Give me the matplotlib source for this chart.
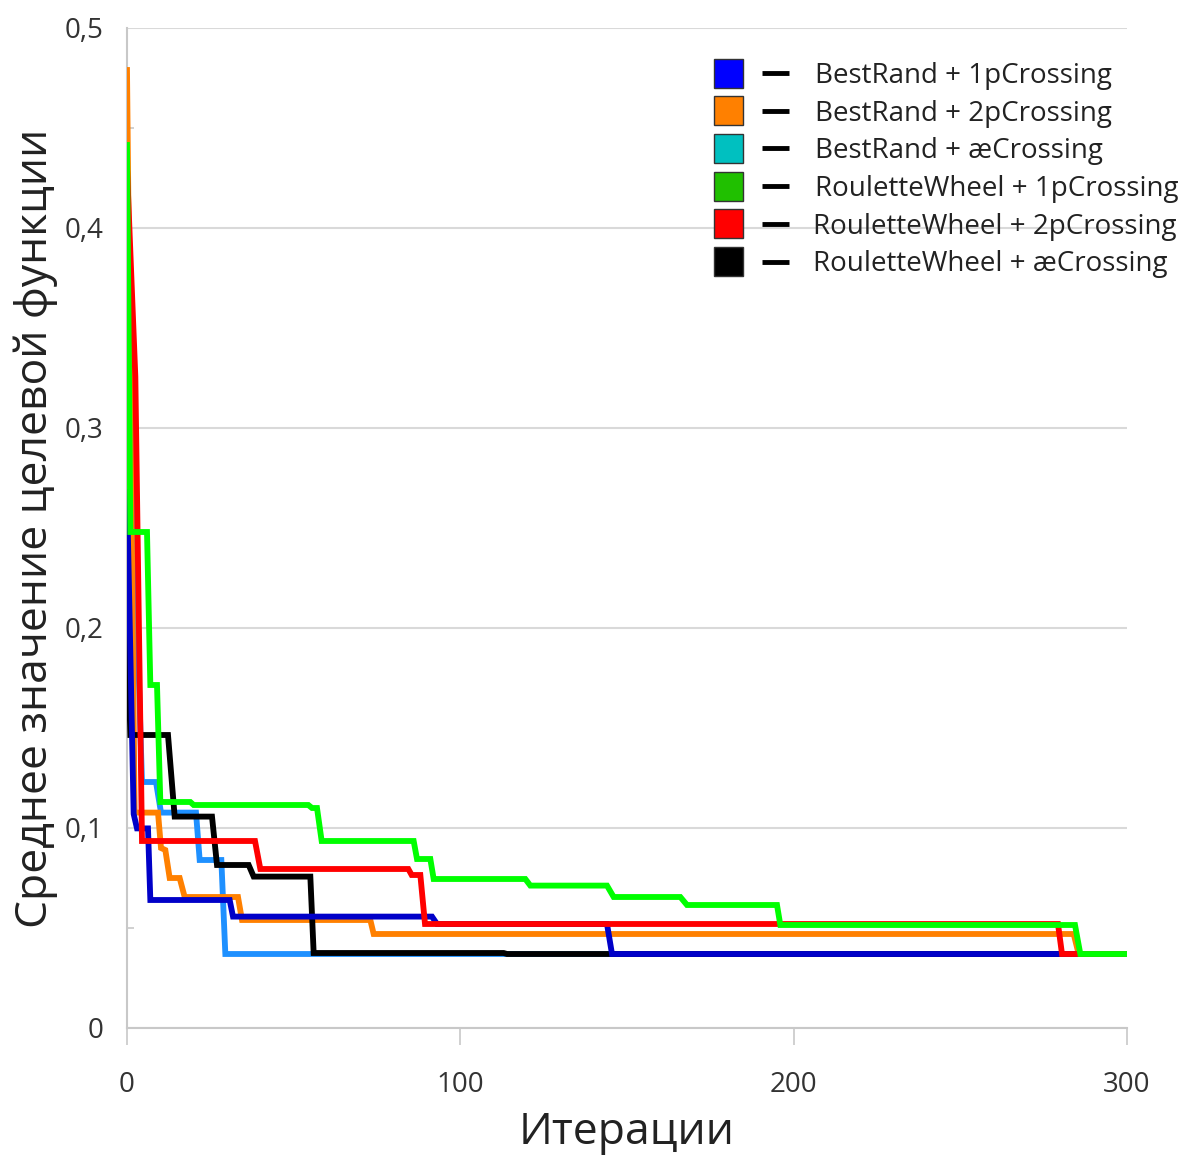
import matplotlib
matplotlib.use("Agg")
import matplotlib.pyplot as plt
from matplotlib.patches import Rectangle
from matplotlib.ticker import FuncFormatter, FixedLocator

plt.rcParams['font.family'] = ['Open Sans', 'DejaVu Sans']

# corner points of each curve (iteration, mean objective value)
br1_x = [0, 2, 3, 6.3, 7, 30.8, 31.8, 91.5, 93, 144, 145.5, 300]
br1_y = [0.268, 0.107, 0.0998, 0.0998, 0.064, 0.064, 0.0557, 0.0557, 0.052, 0.052, 0.037, 0.037]

br2_x = [0, 2.3, 9.3, 10.2, 11.5, 12.8, 15.8, 17.3, 33.3, 34.5, 73, 74, 284, 285.5, 300]
br2_y = [0.479, 0.1077, 0.1077, 0.090, 0.089, 0.075, 0.075, 0.0655, 0.0655, 0.054, 0.054, 0.047, 0.047, 0.037, 0.037]

brae_x = [0, 4.5, 8.7, 10.2, 20.7, 21.8, 28.3, 29.5, 300]
brae_y = [0.369, 0.123, 0.123, 0.1077, 0.1077, 0.084, 0.084, 0.037, 0.037]

rw1_x = [0, 1, 6, 7, 9, 10, 19, 20, 54.4, 55.5, 57, 58.4, 86, 87, 91, 92, 119.5, 121, 144, 146, 166, 168, 195, 196, 284.4, 286, 300]
rw1_y = [0.4415, 0.248, 0.248, 0.1715, 0.1715, 0.113, 0.113, 0.1115, 0.1115, 0.110, 0.110, 0.0935, 0.0935, 0.0845, 0.0845, 0.0745, 0.0745, 0.0712, 0.0712, 0.0655, 0.0655, 0.0615, 0.0615, 0.0515, 0.0515, 0.037, 0.037]

rw2_x = [0, 2.5, 4.5, 38.4, 40, 84.4, 85.4, 88, 89.4, 279.3, 280.5, 300]
rw2_y = [0.43, 0.3257, 0.0935, 0.0935, 0.0795, 0.0795, 0.0765, 0.0765, 0.052, 0.052, 0.037, 0.037]

rwae_x = [0, 1, 12.3, 14.3, 25.5, 27, 36.5, 38, 55, 56, 113, 114, 300]
rwae_y = [0.208, 0.1465, 0.1465, 0.1057, 0.1057, 0.0815, 0.0815, 0.0757, 0.0757, 0.0375, 0.0375, 0.037, 0.037]

names = ['BestRand + 1pCrossing', 'BestRand + 2pCrossing', 'BestRand + æCrossing',
         'RouletteWheel + 1pCrossing', 'RouletteWheel + 2pCrossing', 'RouletteWheel + æCrossing']
line_colors = ['#0000C8', '#FF8000', '#1E90FF', '#00FF00', '#FF0000', '#000000']
box_colors = ['#0000FF', '#FF8000', '#00C0C0', '#20C000', '#FF0000', '#000000']
curves = [(br1_x, br1_y), (br2_x, br2_y), (brae_x, brae_y),
          (rw1_x, rw1_y), (rw2_x, rw2_y), (rwae_x, rwae_y)]
draw_order = [2, 1, 5, 0, 4, 3]

fig = plt.figure(figsize=(11.91, 11.57), dpi=100)
ax = fig.add_axes([127/1191, 1 - 1028/1157, 1000/1191, 1000/1157])

for z, i in enumerate(draw_order):
    x, y = curves[i]
    ax.plot(x, y, color=line_colors[i], lw=4.2, zorder=3 + z, solid_joinstyle='miter')

ax.set_xlim(0, 300)
ax.set_ylim(0, 0.5)
ax.set_axisbelow(True)
ax.yaxis.grid(True, color='#D9D9D9', lw=1.5)

for s in ['top', 'right']:
    ax.spines[s].set_visible(False)
for s in ['left', 'bottom']:
    ax.spines[s].set_color('#C8C8C8')
    ax.spines[s].set_linewidth(1.5)

ax.set_xticks([0, 100, 200, 300])
ax.set_yticks([0, 0.1, 0.2, 0.3, 0.4, 0.5])
ax.yaxis.set_minor_locator(FixedLocator([0.05, 0.15, 0.25, 0.35, 0.45]))
ax.yaxis.set_major_formatter(FuncFormatter(lambda v, p: '0' if v == 0 else ('%.1f' % v).replace('.', ',')))
ax.tick_params(axis='x', direction='out', length=12, width=1.2, color='#C8C8C8',
               labelsize=20, pad=19, labelcolor='#333333')
ax.tick_params(axis='y', which='major', length=0, labelsize=20, pad=17, labelcolor='#333333')
ax.tick_params(axis='y', which='minor', direction='in', length=5, width=1.2, color='#C8C8C8')

ax.set_xlabel('Итерации', fontsize=32, color='#222222', labelpad=8)
ax.set_ylabel('Среднее значение целевой функции', fontsize=32, color='#222222', labelpad=5)

# legend drawn on a pixel-space overlay
lg = fig.add_axes([0, 0, 1, 1])
lg.set_xlim(0, 1191)
lg.set_ylim(1157, 0)
lg.axis('off')
for i, name in enumerate(names):
    cy = 73 + 37.7 * i
    lg.add_patch(Rectangle((714, cy - 14.5), 28.5, 29, facecolor=box_colors[i],
                           edgecolor='#333333', lw=1))
    lg.plot([762, 789], [cy, cy], color='black', lw=3.5, solid_capstyle='butt')
    lg.text(815 - (i // 4) * 2, cy + 3, name, fontsize=20, color='#222222',
            va='center', ha='left')

fig.savefig('out.png', dpi=100)
